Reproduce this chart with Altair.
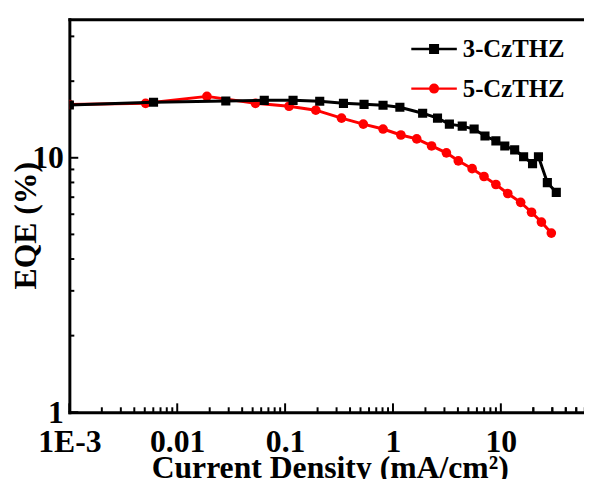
import altair as alt
import pandas as pd

# ---- data ----
series_names = ["3-CzTHZ", "5-CzTHZ"]
series_colors = ["#000000", "#ff0000"]

x_3cz = [0.001, 0.00603, 0.0282, 0.0641, 0.1185, 0.2094, 0.3475, 0.5395, 0.809,
         1.159, 1.884, 2.587, 3.334, 4.386, 5.654, 7.127, 8.995, 10.88, 13.43,
         16.26, 19.67, 22.32, 26.98, 32.66]
y_3cz = [16.12, 16.52, 16.71, 16.82, 16.82, 16.67, 16.37, 16.22, 16.08,
         15.79, 14.97, 14.31, 13.56, 13.32, 12.97, 12.18, 11.65, 11.13, 10.74,
         10.09, 9.48, 10.09, 7.99, 7.31]

x_5cz = [0.001, 0.00509, 0.01885, 0.0531, 0.1088, 0.1925, 0.3334, 0.5306, 0.809,
         1.184, 1.661, 2.279, 3.129, 4.032, 5.418, 6.98, 8.995, 11.59, 15.26,
         19.25, 23.77, 29.37]
y_5cz = [16.2, 16.37, 17.43, 16.37, 15.94, 15.38, 14.31, 13.56, 12.97,
         12.29, 11.86, 11.13, 10.46, 9.73, 9.06, 8.44, 7.85, 7.24, 6.68,
         6.11, 5.59, 5.06]

x_tick_values = [0.001, 0.01, 0.1, 1, 10]
x_tick_labels = ["1E-3", "0.01", "0.1", "1", "10"]
y_tick_values = [1, 10]
y_tick_labels = ["1", "10"]
x_minor_ticks = [k * 10 ** d for d in range(-3, 2) for k in range(2, 10)] + [20, 30, 40, 50]
y_minor_ticks = list(range(2, 10)) + [20, 30]

x_title = "Current Density (mA/cm\u00b2)"
y_title = "EQE (%)"

# ---- build tables ----
df = pd.concat([
    pd.DataFrame({"x": x_3cz, "y": y_3cz, "series": series_names[0]}),
    pd.DataFrame({"x": x_5cz, "y": y_5cz, "series": series_names[1]}),
], ignore_index=True)
df_x_major = pd.DataFrame({"v": x_tick_values})
df_x_minor = pd.DataFrame({"v": x_minor_ticks})
df_y_major = pd.DataFrame({"v": y_tick_values})
df_y_minor = pd.DataFrame({"v": y_minor_ticks})

FONT = "Liberation Serif"
W, H = 520, 397

xscale = alt.Scale(type="log", domain=[0.001, 59], nice=False)
yscale = alt.Scale(type="log", domain=[1, 35], nice=False)


def label_expr(values, labels):
    parts = [f"abs(datum.value - {v}) < {v * 1e-3} ? '{l}' : " for v, l in zip(values, labels)]
    return "".join(parts) + "''"


x_main = alt.Axis(values=x_tick_values, labelExpr=label_expr(x_tick_values, x_tick_labels),
                  ticks=False, tickSize=0, grid=False, domain=True, domainWidth=3,
                  domainColor="black", domainCap="square", labelFlush=False,
                  labelFont=FONT, labelFontSize=32, labelFontWeight="bold",
                  labelColor="black", labelPadding=15, title=x_title,
                  titleFont=FONT, titleFontSize=32, titleFontWeight="bold",
                  titleColor="black", titleY=66, titleX=263, titleBaseline="alphabetic")
y_main = alt.Axis(values=y_tick_values, labelExpr=label_expr(y_tick_values, y_tick_labels),
                  ticks=False, tickSize=0, grid=False, domain=True, domainWidth=3,
                  domainColor="black", domainCap="square",
                  labelFont=FONT, labelFontSize=32, labelFontWeight="bold",
                  labelColor="black", labelPadding=6, title=y_title,
                  titleFont=FONT, titleFontSize=32, titleFontWeight="bold",
                  titleColor="black", titleX=-44, titleY=208, titleBaseline="middle")
x_top = alt.Axis(orient="top", labels=False, ticks=False, grid=False, domain=True,
                 domainWidth=3, domainColor="black", domainCap="square", title=None)

# legend layer (drawn first, marks have zero size; only the legend is visible)
sq_path = "M-2.3,0H2.3M-0.38,-0.38H0.38V0.38H-0.38Z"
ci_path = "M-2.3,0H2.3M0.38,0A0.38,0.38,0,1,1,-0.38,0A0.38,0.38,0,1,1,0.38,0Z"


def legend_def():
    return alt.Legend(title=None, orient="none", legendX=356, legendY=17.5, padding=0,
                      symbolSize=400, symbolStrokeWidth=2.5, labelFont=FONT,
                      labelFontSize=25, labelFontWeight="bold", labelColor="black",
                      labelOffset=16.5, rowPadding=14, labelLimit=300)


base = alt.Chart(df)

legend_layer = base.mark_point(size=0, filled=True, opacity=1, clip=True).encode(
    x=alt.X("x:Q", scale=xscale, axis=x_main),
    y=alt.Y("y:Q", scale=yscale, axis=y_main),
    fill=alt.Fill("series:N", scale=alt.Scale(domain=series_names, range=series_colors),
                  legend=legend_def()),
    stroke=alt.Stroke("series:N", scale=alt.Scale(domain=series_names, range=series_colors),
                      legend=legend_def()),
    shape=alt.Shape("series:N", scale=alt.Scale(domain=series_names, range=[sq_path, ci_path]),
                    legend=legend_def()),
)

red = base.transform_filter(alt.datum.series == series_names[1])
black = base.transform_filter(alt.datum.series == series_names[0])
XE = alt.X("x:Q", scale=xscale, axis=None)
YE = alt.Y("y:Q", scale=yscale, axis=None)

red_line = red.mark_line(strokeWidth=3, clip=True, color=series_colors[1]).encode(x=XE, y=YE)
red_pts = red.mark_circle(size=95, opacity=1, clip=True, color=series_colors[1]).encode(x=XE, y=YE)
black_line = black.mark_line(strokeWidth=3, clip=True, color=series_colors[0]).encode(
    x=alt.X("x:Q", scale=xscale, axis=x_top), y=YE)
black_pts = black.mark_square(size=85, opacity=1, clip=True, color=series_colors[0]).encode(x=XE, y=YE)


# inward ticks, placed by the shared scales
def xticks(d, length):
    return alt.Chart(d).mark_rule(color="black", strokeWidth=2).encode(
        x=alt.X("v:Q", scale=xscale, axis=None), y=alt.value(H), y2=alt.value(H - length))


def yticks(d, length):
    return alt.Chart(d).mark_rule(color="black", strokeWidth=2).encode(
        y=alt.Y("v:Q", scale=yscale, axis=None), x=alt.value(0), x2=alt.value(length))


chart = alt.layer(
    legend_layer,
    red_line, red_pts, black_line, black_pts,
    xticks(df_x_minor, 5), xticks(df_x_major, 9),
    yticks(df_y_minor, 5), yticks(df_y_major, 9),
).resolve_axis(
    x="independent", y="independent"
).properties(
    width=W, height=H,
    autosize=alt.AutoSizeParams(type="none"),
    padding={"left": 62, "top": 9, "right": 0, "bottom": 65},
).configure_view(stroke=None)

chart.save("out.html", embed_options={"renderer": "svg", "actions": False})
